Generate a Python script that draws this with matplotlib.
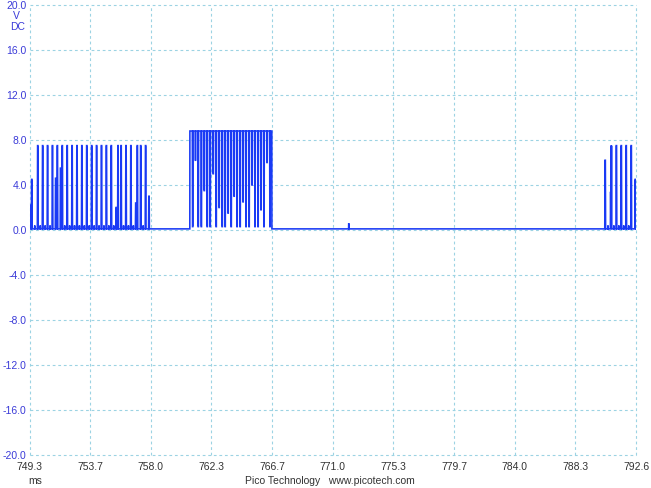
import numpy as np
import matplotlib
matplotlib.use("Agg")
import matplotlib.pyplot as plt

# ---------------- data ----------------
x_tick_labels = ["749.3", "753.7", "758.0", "762.3", "766.7", "771.0",
                 "775.3", "779.7", "784.0", "788.3", "792.6"]
y_ticks = [20, 16, 12, 8, 4, 0, -4, -8, -12, -16, -20]
y_tick_labels = ["20.0", "16.0", "12.0", "8.0", "4.0", "0.0",
                 "-4.0", "-8.0", "-12.0", "-16.0", "-20.0"]

baseline_v = 0.1

# burst 1: pulse times (ms) and peak voltages
burst1_t = [749.33, 749.46, 749.89, 750.24, 750.59, 750.94, 751.17, 751.29,
            751.52, 751.64, 751.99, 752.34, 752.69, 753.04, 753.39, 753.74,
            754.09, 754.44, 754.79, 755.14, 755.49, 755.62, 755.84, 756.19,
            756.54, 756.89, 757.00, 757.24, 757.59, 757.83]
burst1_v = [2.2, 4.5, 7.5, 7.5, 7.5, 7.5, 4.6, 7.5,
            5.5, 7.5, 7.5, 7.5, 7.5, 7.5, 7.5, 7.5,
            7.5, 7.5, 7.5, 7.5, 2.0, 7.5, 7.5, 7.5,
            7.5, 2.4, 7.5, 7.5, 7.5, 3.0]

# burst 2: high level with drops (time ms, minimum voltage)
burst2_start, burst2_end, burst2_high = 760.75, 766.60, 8.8
burst2_t = [760.95, 761.15, 761.35, 761.57, 761.78, 761.99, 762.20, 762.42,
            762.63, 762.84, 763.06, 763.27, 763.48, 763.70, 763.91, 764.12,
            764.34, 764.55, 764.76, 764.98, 765.19, 765.40, 765.62, 765.83,
            766.04, 766.26, 766.47]
burst2_v = [0.3, 6.2, 0.3, 0.3, 3.5, 0.3, 0.3, 5.0,
            0.3, 2.0, 0.3, 0.3, 1.5, 0.3, 3.0, 0.3,
            0.3, 2.5, 0.3, 0.3, 4.0, 0.3, 0.3, 1.8, 0.3, 6.0, 0.3]

# burst 3: pulse times (ms) and peak voltages
burst3_t = [790.40, 790.80, 790.84, 791.20, 791.55, 791.90, 792.26, 792.55]
burst3_v = [6.2, 3.4, 7.5, 7.5, 7.5, 7.5, 7.5, 4.5]

# isolated spike
spike_t = [772.10]
spike_v = [0.55]

bump_v = 0.4  # small ripple between pulses

# ---------------- build trace ----------------
def pulse_points(times, peaks, w=0.03, top=0.012):
    pts = []
    for t, p in zip(times, peaks):
        pts += [(t - w, baseline_v), (t - top, p), (t + top, p), (t + w, baseline_v)]
    return pts

pts = [(749.3, baseline_v)]
pts += pulse_points(burst1_t, burst1_v)
mids1 = [(a + b) / 2 for a, b in zip(burst1_t[:-1], burst1_t[1:]) if b - a > 0.3]
pts += pulse_points(mids1, [bump_v] * len(mids1), w=0.02, top=0.0)
# burst 2
pts += [(burst2_start - 0.005, baseline_v), (burst2_start, burst2_high)]
for t, v in zip(burst2_t, burst2_v):
    pts += [(t - 0.025, burst2_high), (t - 0.01, v), (t + 0.01, v), (t + 0.025, burst2_high)]
pts += [(burst2_end, burst2_high), (burst2_end + 0.005, baseline_v)]
pts += pulse_points(spike_t, spike_v, w=0.02)
pts += pulse_points(burst3_t, burst3_v)
mids3 = [(a + b) / 2 for a, b in zip(burst3_t[:-1], burst3_t[1:]) if b - a > 0.3]
pts += pulse_points(mids3, [bump_v] * len(mids3), w=0.02, top=0.0)
pts.append((792.6, baseline_v))
pts.sort(key=lambda p: p[0])
tx = np.array([p[0] for p in pts])
vy = np.array([p[1] for p in pts])

# ---------------- figure ----------------
plt.rcParams['font.family'] = ['Liberation Sans', 'DejaVu Sans']
fig = plt.figure(figsize=(6.51, 4.88), dpi=100)
L, R, T, B = 29.5, 636, 5, 455
ax = fig.add_axes([L / 651, 1 - B / 488, (R - L) / 651, (B - T) / 488])

xmin, xmax = 749.3, 792.6
x_ticks = np.linspace(xmin, xmax, len(x_tick_labels))

ax.plot(tx, vy, color='#1a3af5', lw=1.15, solid_joinstyle='miter', antialiased=True)

ax.set_xlim(xmin, xmax)
ax.set_ylim(-20, 20)
ax.set_xticks(x_ticks)
ax.set_xticklabels(x_tick_labels)
ax.set_yticks(y_ticks)
ax.set_yticklabels(y_tick_labels)
for s in ax.spines.values():
    s.set_visible(False)
ax.tick_params(length=0, labelsize=7.5, pad=3)
ax.tick_params(axis='y', colors='#3a3ad8', pad=2)
ax.tick_params(axis='x', colors='#333333', pad=5)
grid_kw = dict(color='#9cd3e3', lw=0.8, linestyle=(0, (2.5, 2.5)))
for xt in x_ticks:
    ax.axvline(xt, clip_on=False, zorder=0, **grid_kw)
for yt in y_ticks:
    ax.axhline(yt, clip_on=False, zorder=0, **grid_kw)

fig.text(16 / 651, 1 - 16 / 488, "V", color='#3a3ad8', fontsize=7.5, ha='center', va='center')
fig.text(18 / 651, 1 - 27 / 488, "DC", color='#3a3ad8', fontsize=7.5, ha='center', va='center')
fig.text(35 / 651, 1 - 481 / 488, "ms", color='#333333', fontsize=7.5, ha='center', va='center')
fig.text(330 / 651, 1 - 481 / 488, "Pico Technology   www.picotech.com", color='#333333',
         fontsize=7.5, ha='center', va='center')

fig.savefig("out.png", dpi=100, facecolor='white')
